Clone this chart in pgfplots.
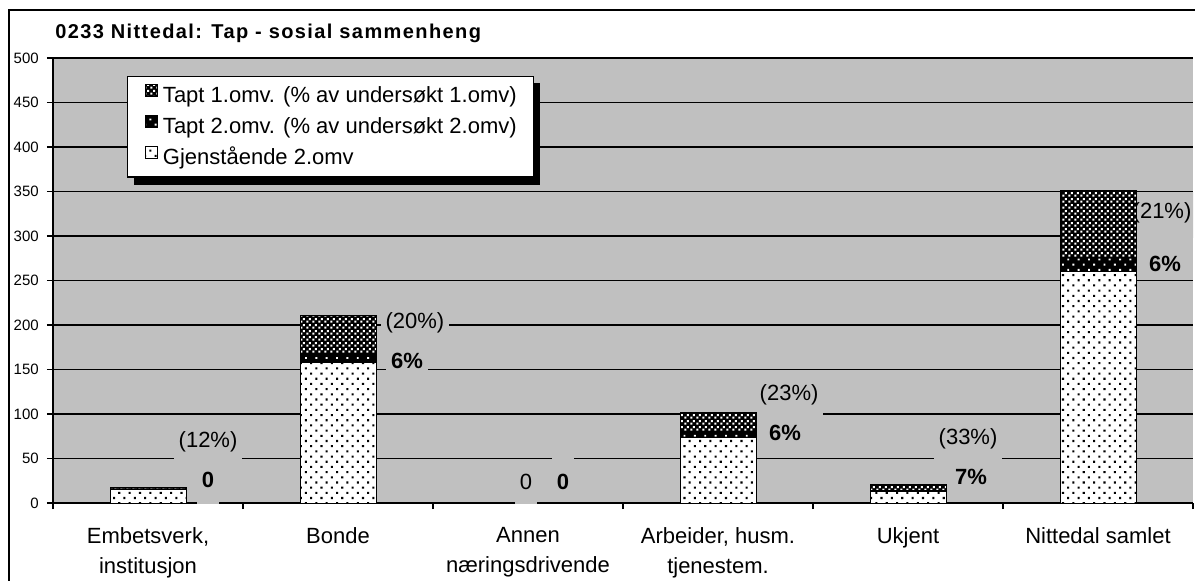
\documentclass[border=0pt]{standalone}
\usepackage{pgfplots}
\pgfplotsset{compat=1.18}
\usepackage{fontspec}
\setmainfont{Liberation Sans}
\newfontfamily\titlefont{Liberation Sans}[LetterSpace=7]
\usetikzlibrary{patterns,patterns.meta}
\definecolor{plotgray}{HTML}{C0C0C0}
\pgfdeclarepatternformonly{finecheck}{\pgfpointorigin}{\pgfqpoint{4.5pt}{4.5pt}}{\pgfqpoint{4.5pt}{4.5pt}}{%
  \pgfpathrectangle{\pgfqpoint{0.25pt}{0.25pt}}{\pgfqpoint{1.75pt}{1.75pt}}%
  \pgfpathrectangle{\pgfqpoint{2.5pt}{2.5pt}}{\pgfqpoint{1.75pt}{1.75pt}}%
  \pgfusepath{fill}}
\begin{document}
\begin{tikzpicture}[
  lab/.style={fill=plotgray, inner xsep=3.75pt, inner ysep=0pt, text height=20pt, text depth=14.5pt, anchor=base, yshift=-4.3pt, font=\fontsize{16.5}{19}\selectfont},
  blab/.style={fill=plotgray, inner xsep=3.75pt, inner ysep=0pt, text height=15.65pt, text depth=3.85pt, anchor=base, yshift=-5.9pt, font=\bfseries\fontsize{16.5}{19}\selectfont},
]
\useasboundingbox (0,0) rectangle (896.25pt,-435.75pt);
\draw[line width=1.5pt] (6.75pt,-7.5pt) rectangle (900pt,-440pt);
\node[anchor=base west, font=\titlefont\bfseries\fontsize{15}{18}\selectfont, inner sep=0pt] at (41.25pt,-29.25pt) {0233 Nittedal: Tap - sosial sammenheng};
\begin{axis}[
  at={(39.75pt,-377.25pt)}, anchor=south west,
  scale only axis, width=855pt, height=333.75pt,
  ybar stacked, bar width=0.4,
  xmin=-0.5, xmax=5.5, ymin=0, ymax=500,
  axis background/.style={fill=plotgray},
  axis x line*=bottom, axis y line*=left,
  x axis line style={draw=none},
  y axis line style={line width=1pt},
  xtick={-0.5,0.5,...,5.5}, xticklabels={},
  extra x ticks={0,1,2,3,4,5},
  extra x tick labels={{Embetsverk,\\institusjon},Bonde,{Annen\\næringsdrivende},{Arbeider, husm.\\tjenestem.},Ukjent,Nittedal samlet},
  extra x tick style={grid=none, major tick length=0pt},
  ytick={0,50,...,500},
  ymajorgrids, major grid style={black, line width=1pt},
  tick align=outside, major tick length=4.5pt,
  tick style={black, line width=1pt},
  yticklabel style={font=\fontsize{11.25}{13}\selectfont, anchor=east, inner sep=0pt, xshift=-6pt},
  xticklabel style={font=\fontsize{16.5}{22.5}\selectfont, align=center, anchor=north, inner sep=0pt, yshift=-18pt},
  /pgf/number format/assume math mode=true,
  legend style={at={(0.0649,0.9596)}, anchor=north west, draw=black, line width=1pt, fill=white,
    font=\fontsize{16.5}{19}\selectfont, inner xsep=12.75pt, inner ysep=5.5pt, row sep=5.75pt, column sep=4pt,
    nodes={inner sep=0pt, text height=13.5pt, text depth=4pt}},
  legend cell align=left,
  legend image code/.code={\draw[#1, line width=0.75pt] (0pt,-0.5pt) rectangle (9pt,8.5pt);},
  reverse legend,
]
\addplot[fill=white, draw=black, line width=0.75pt, postaction={pattern={Dots[distance=5.5pt,angle=45,radius=1.1pt]}, pattern color=black}]
  coordinates {(0,15) (1,158) (2,0) (3,74) (4,13) (5,260)};
\addlegendentry{Gjenstående 2.omv}
\addplot[fill=black, draw=black, line width=0.75pt, postaction={pattern={Dots[distance=5.5pt,angle=45,radius=1pt]}, pattern color=white}]
  coordinates {(0,0) (1,10) (2,0) (3,5) (4,1) (5,16)};
\addlegendentry{Tapt 2.omv. (\% av undersøkt 2.omv)}
\addplot[fill=black, draw=black, line width=0.75pt, postaction={pattern=finecheck, pattern color=white}]
  coordinates {(0,2) (1,43) (2,0) (3,23) (4,7) (5,75)};
\addlegendentry{Tapt 1.omv. (\% av undersøkt 1.omv)}
% legend shadow
\fill[black] ([xshift=5pt,yshift=-5pt]rel axis cs:0.0649,0.9596) rectangle ([xshift=5pt,yshift=-5pt]rel axis cs:0.4211,0.7303);
% labels for Tapt 1.omv
\node[lab] at (axis cs:0.316,68.5) {(12\%)};
\node[lab] at (axis cs:1.405,202.2) {(20\%)};
\node[lab, yshift=-1.6pt, text height=21.65pt, text depth=11.35pt] at (axis cs:1.989,23.6) {0};
\node[lab] at (axis cs:3.374,121.3) {(23\%)};
\node[lab] at (axis cs:4.316,71.9) {(33\%)};
\node[lab] at (axis cs:5.337,325.8) {(21\%)};
% labels for Tapt 2.omv
\node[blab, text depth=12.85pt] at (axis cs:0.316,25.8) {0};
\node[blab] at (axis cs:1.363,159.6) {6\%};
\node[blab, text height=25.4pt] at (axis cs:2.184,23.6) {0};
\node[blab] at (axis cs:3.353,78.7) {6\%};
\node[blab] at (axis cs:4.332,29.2) {7\%};
\node[blab] at (axis cs:5.353,268.5) {6\%};
\end{axis}
\end{tikzpicture}
\end{document}
